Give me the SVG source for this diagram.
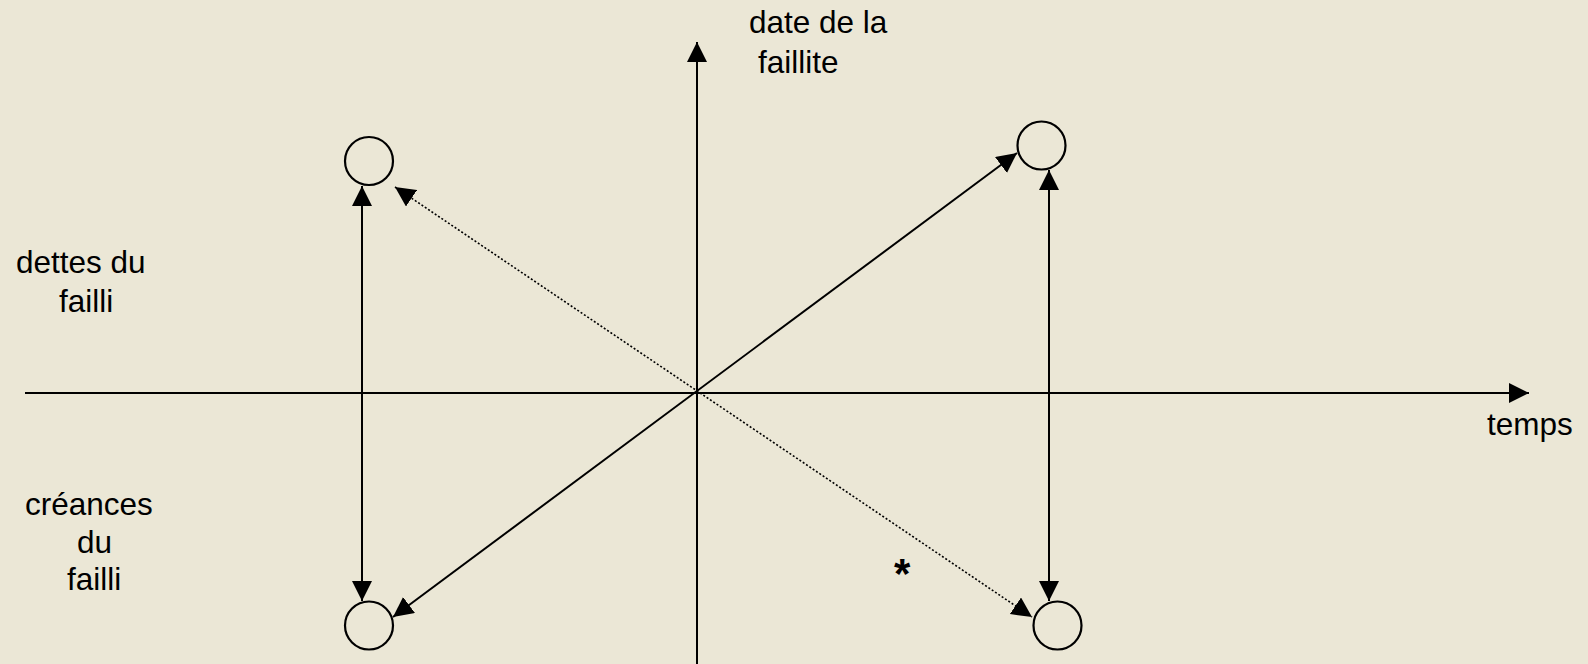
<svg xmlns="http://www.w3.org/2000/svg" width="1588" height="664" viewBox="0 0 1588 664">
<defs>
<marker id="ah" viewBox="0 0 20 20" refX="20" refY="10" markerWidth="20" markerHeight="20" markerUnits="userSpaceOnUse" orient="auto-start-reverse">
<path d="M0,0 L20,10 L0,20 z" fill="#000"/>
</marker>
<style>
.ax{stroke:#000;stroke-width:2;fill:none}
.ln{stroke:#000;stroke-width:2;fill:none}
.dot{stroke:#000;stroke-width:1.6;fill:none;stroke-dasharray:2 2}
.nd{fill:none;stroke:#000;stroke-width:2.2}
.t{font-family:"Liberation Sans",Arial,sans-serif;font-size:31.5px;fill:#000}
</style>
</defs>
<rect width="1588" height="664" fill="#ebe7d6"/>
<g id="connectors">
<line class="ax" x1="25" y1="393" x2="1529" y2="393" marker-end="url(#ah)"/>
<line class="ax" x1="697" y1="664" x2="697" y2="42" marker-end="url(#ah)"/>
<line class="ln" x1="362" y1="186" x2="362" y2="601" marker-start="url(#ah)" marker-end="url(#ah)"/>
<line class="ln" x1="1049" y1="170" x2="1049" y2="601" marker-start="url(#ah)" marker-end="url(#ah)"/>
<line class="ln" x1="393" y1="617" x2="1017" y2="153" marker-start="url(#ah)" marker-end="url(#ah)"/>
<line class="dot" x1="395" y1="187" x2="1032" y2="617" marker-start="url(#ah)" marker-end="url(#ah)"/>
</g>
<g id="node-tl"><circle class="nd" cx="369" cy="161" r="24"/></g>
<g id="node-tr"><circle class="nd" cx="1041.5" cy="145.5" r="24"/></g>
<g id="node-bl"><circle class="nd" cx="369" cy="625.5" r="24"/></g>
<g id="node-br"><circle class="nd" cx="1057.5" cy="625.5" r="24"/></g>
<g id="labels">
<text class="t" x="749" y="33">date de la</text>
<text class="t" x="758" y="73">faillite</text>
<text class="t" x="16" y="273">dettes du</text>
<text class="t" x="59" y="312">failli</text>
<text class="t" x="25" y="515">créances</text>
<text class="t" x="77" y="553">du</text>
<text class="t" x="67" y="590">failli</text>
<text class="t" x="1487" y="435">temps</text>
<text class="t" x="894" y="588" style="font-size:42px;font-weight:bold">*</text>
</g>
</svg>
